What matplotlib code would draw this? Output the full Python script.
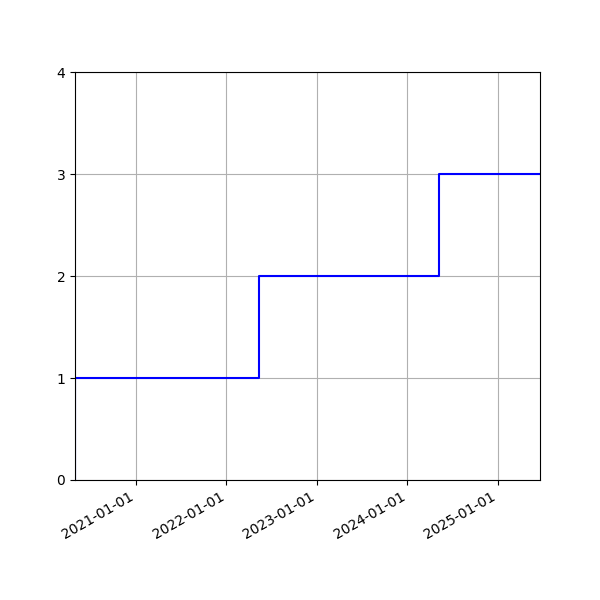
import matplotlib
matplotlib.use("Agg")
import matplotlib.pyplot as plt
import matplotlib.dates as mdates
import numpy as np

# event dates and running count
event_dates = ["2020-04-30", "2020-04-30", "2022-05-14", "2024-05-09", "2025-06-19"]
counts = [0, 1, 2, 3, 3]

dates = np.array(event_dates, dtype="datetime64[D]")

fig, ax = plt.subplots(figsize=(6, 6), dpi=100)
ax.step(dates, counts, where="post", color="blue")
ax.set_xlim(dates[0], dates[-1])
ax.set_ylim(0, 4)
ax.set_yticks(range(5))
ax.xaxis.set_major_locator(mdates.YearLocator())
ax.xaxis.set_major_formatter(mdates.DateFormatter("%Y-%m-%d"))
ax.grid(True)
fig.autofmt_xdate()

fig.savefig("out.png")
